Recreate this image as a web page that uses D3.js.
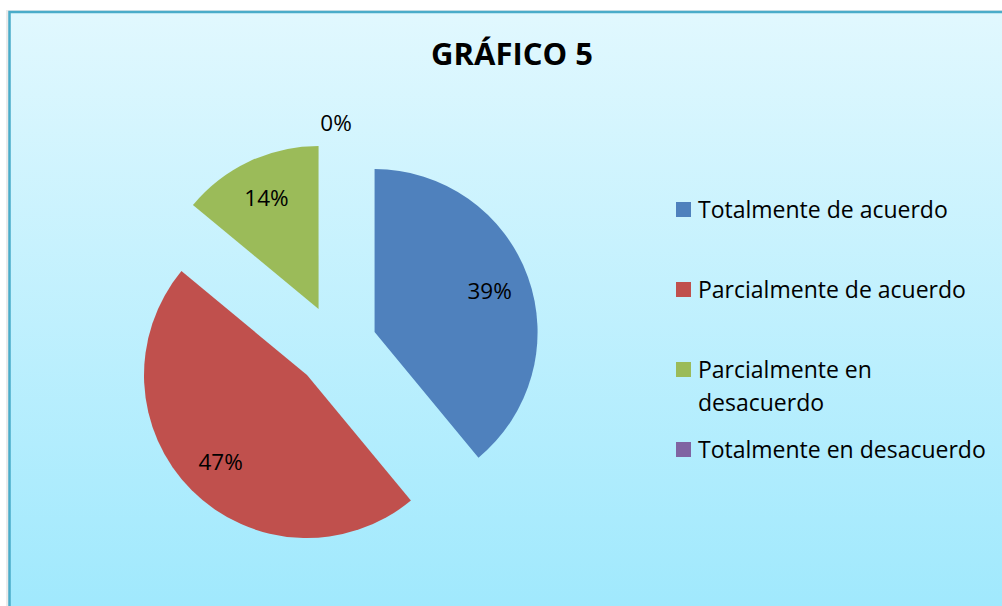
<!DOCTYPE html>
<html>
<head>
<meta charset="utf-8">
<script src="https://cdn.jsdelivr.net/npm/d3@7"></script>
<style>
  html, body { margin: 0; padding: 0; background: #ffffff; }
  svg { display: block; font-family: "Open Sans", "DejaVu Sans", sans-serif; }
</style>
</head>
<body>
<svg id="chart" width="1002" height="606"></svg>
<script>
const title = 'GRÁFICO 5'
const categories = ['Totalmente de acuerdo', 'Parcialmente de acuerdo', 'Parcialmente en desacuerdo', 'Totalmente en desacuerdo']
const values = [39, 47, 14, 0]
const colors = ['#4f81bd', '#c0504d', '#9bbb59', '#8064a2']
// legend text as it wraps in the picture
const legendLines = [['Totalmente de acuerdo'], ['Parcialmente de acuerdo'], ['Parcialmente en', 'desacuerdo'], ['Totalmente en desacuerdo']]

const svg = d3.select('#chart')
const W = 1002, H = 606

// background gradient
const defs = svg.append('defs')
const grad = defs.append('linearGradient')
  .attr('id', 'bg')
  .attr('x1', 0).attr('y1', 0).attr('x2', 0).attr('y2', 1)
grad.append('stop').attr('offset', '0%').attr('stop-color', '#e1f8fe')
grad.append('stop').attr('offset', '100%').attr('stop-color', '#9de8fd')

svg.append('rect')
  .attr('x', 6).attr('y', 10)
  .attr('width', W).attr('height', H)
  .attr('fill', '#d8d8d8')
  .attr('opacity', 0.5)

svg.append('rect')
  .attr('x', 9.5).attr('y', 12)
  .attr('width', W + 20).attr('height', H + 20)
  .attr('fill', 'url(#bg)')
  .attr('stroke', '#4aacc9')
  .attr('stroke-width', 2.5)

svg.append('text')
  .attr('x', 512)
  .attr('y', 65)
  .attr('text-anchor', 'middle')
  .attr('font-size', 31)
  .attr('font-weight', 'bold')
  .attr('fill', '#000')
  .text(title)

// pie
const cx = 336, cy = 346
const radius = 163
const explode = 41

const pie = d3.pie().sort(null).startAngle(0).endAngle(2 * Math.PI)
const arcs = pie(values)
const arc = d3.arc().innerRadius(0).outerRadius(radius)

const pieG = svg.append('g').attr('transform', `translate(${cx}, ${cy})`)

const offset = (a, dist) => {
  const mid = (a.startAngle + a.endAngle) / 2
  return [Math.sin(mid) * dist, -Math.cos(mid) * dist]
}

const slices = pieG.selectAll('g.slice')
  .data(arcs)
  .enter()
  .append('g')
  .attr('class', 'slice')
  .attr('transform', (a) => {
    const [dx, dy] = offset(a, explode)
    return `translate(${dx}, ${dy})`
  })

slices.append('path')
  .attr('d', arc)
  .attr('fill', (a, i) => colors[i])

slices.append('text')
  .attr('x', (a) => offset(a, a.value > 0 ? radius * 0.75 : radius + 19)[0])
  .attr('y', (a) => offset(a, a.value > 0 ? radius * 0.75 : radius + 19)[1])
  .attr('dy', '0.36em')
  .attr('text-anchor', 'middle')
  .attr('font-size', 22.5)
  .attr('fill', '#000')
  .text((a) => `${a.value}%`)

// legend
const legendY = [210, 290, 370, 450]
const lineH = 33
const legend = svg.append('g')
  .selectAll('g')
  .data(categories)
  .enter()
  .append('g')
  .attr('transform', (d, i) => `translate(676, ${legendY[i]})`)

legend.append('rect')
  .attr('x', 0).attr('y', -8)
  .attr('width', 15).attr('height', 15)
  .attr('fill', (d, i) => colors[i])

legend.append('text')
  .attr('x', 22)
  .attr('y', 0)
  .attr('font-size', 23)
  .attr('fill', '#000')
  .each(function (d, i) {
    const t = d3.select(this)
    legendLines[i].forEach((line, k) => {
      t.append('tspan')
        .attr('x', 22)
        .attr('y', k * lineH)
        .attr('dy', '0.36em')
        .text(line)
    })
  })
</script>
</body>
</html>
